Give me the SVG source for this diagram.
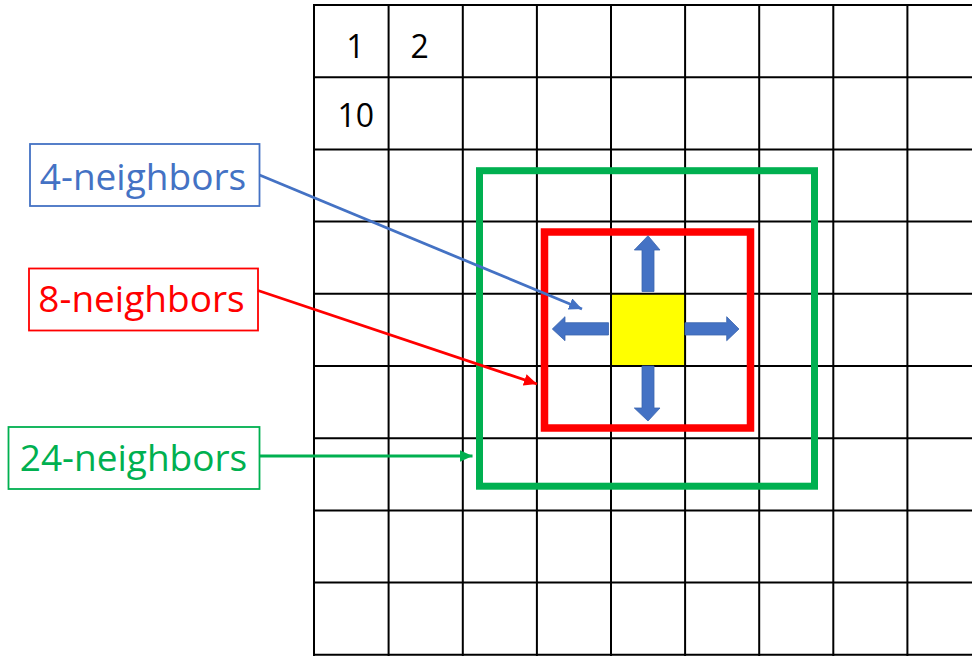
<svg xmlns="http://www.w3.org/2000/svg" width="972" height="656" viewBox="0 0 972 656">
  <style>
    .grid line { stroke: #000; stroke-width: 2; }
    .num { font-family: "Open Sans", "Liberation Sans", sans-serif; font-size: 32px; fill: #000; text-anchor: middle; }
    .lbl { font-family: "Open Sans", "Liberation Sans", sans-serif; font-size: 37px; text-anchor: middle; }
    .box { fill: #fff; stroke-width: 1.8; }
    .conn { fill: none; stroke-width: 2.8; }
    .barrow { fill: #4472C4; stroke: #3A64AE; stroke-width: 0.8; }
  </style>
  <defs>
    <marker id="ahBlue" markerUnits="userSpaceOnUse" markerWidth="14" markerHeight="12" refX="13" refY="6" orient="auto">
      <path d="M0,0 L13,6 L0,12 Z" fill="#4472C4"/>
    </marker>
    <marker id="ahRed" markerUnits="userSpaceOnUse" markerWidth="14" markerHeight="12" refX="13" refY="6" orient="auto">
      <path d="M0,0 L13,6 L0,12 Z" fill="#FF0000"/>
    </marker>
    <marker id="ahGreen" markerUnits="userSpaceOnUse" markerWidth="14" markerHeight="12" refX="13" refY="6" orient="auto">
      <path d="M0,0 L13,6 L0,12 Z" fill="#00B050"/>
    </marker>
  </defs>

  <rect width="972" height="656" fill="#fff"/>

  <!-- centre pixel -->
  <rect id="center-cell" x="611.5" y="294" width="74" height="72" fill="#FFFF00"/>

  <!-- pixel grid -->
  <g id="grid" class="grid">
    <line x1="314" y1="4" x2="314" y2="656"/>
    <line x1="388.6" y1="4" x2="388.6" y2="656"/>
    <line x1="462.8" y1="4" x2="462.8" y2="656"/>
    <line x1="536.9" y1="4" x2="536.9" y2="656"/>
    <line x1="611" y1="4" x2="611" y2="656"/>
    <line x1="685.1" y1="4" x2="685.1" y2="656"/>
    <line x1="759.2" y1="4" x2="759.2" y2="656"/>
    <line x1="833.3" y1="4" x2="833.3" y2="656"/>
    <line x1="907.4" y1="4" x2="907.4" y2="656"/>
    <line x1="313" y1="5" x2="972" y2="5"/>
    <line x1="313" y1="77.2" x2="972" y2="77.2"/>
    <line x1="313" y1="149.4" x2="972" y2="149.4"/>
    <line x1="313" y1="221.6" x2="972" y2="221.6"/>
    <line x1="313" y1="293.8" x2="972" y2="293.8"/>
    <line x1="313" y1="366" x2="972" y2="366"/>
    <line x1="313" y1="438.2" x2="972" y2="438.2"/>
    <line x1="313" y1="510.4" x2="972" y2="510.4"/>
    <line x1="313" y1="582.6" x2="972" y2="582.6"/>
    <line x1="313" y1="654.8" x2="972" y2="654.8"/>
  </g>

  <!-- pixel indices -->
  <g id="indices">
    <text class="num" x="355.5" y="58.3">1</text>
    <text class="num" x="419.7" y="58.3">2</text>
    <text class="num" x="355.7" y="126.7">10</text>
  </g>

  <!-- neighbourhood frames -->
  <rect id="frame-24" x="479.5" y="170.7" width="335" height="315.5" fill="none" stroke="#00B050" stroke-width="7"/>
  <rect id="frame-8" x="544.5" y="232" width="206" height="196" fill="none" stroke="#FF0000" stroke-width="7.5"/>

  <!-- 4-neighbour direction arrows -->
  <g id="dir-arrows">
    <path class="barrow" d="M642,291.5 L642,250 L634.3,250 L648,235.7 L660,250 L654,250 L654,291.5 Z"/>
    <path class="barrow" d="M642,366 L642,408 L634.3,408 L648,421 L660,408 L654,408 L654,366 Z"/>
    <path class="barrow" d="M608.5,322.7 L565,322.7 L565,316.7 L552.3,329 L565,340.7 L565,335 L608.5,335 Z"/>
    <path class="barrow" d="M685,322.7 L726.7,322.7 L726.7,316.7 L739,329 L726.7,340.7 L726.7,335 L685,335 Z"/>
  </g>

  <!-- labels -->
  <g id="label-4">
    <rect class="box" x="30" y="144" width="229.5" height="62" stroke="#4472C4"/>
    <text class="lbl" x="143" y="190" fill="#4472C4">4-neighbors</text>
  </g>
  <g id="label-8">
    <rect class="box" x="29" y="268.5" width="229" height="62" stroke="#FF0000"/>
    <text class="lbl" x="141.5" y="311.5" fill="#FF0000">8-neighbors</text>
  </g>
  <g id="label-24">
    <rect class="box" x="8.5" y="427" width="251" height="62" stroke="#00B050"/>
    <text class="lbl" x="133.5" y="470.5" fill="#00B050">24-neighbors</text>
  </g>

  <!-- leader lines -->
  <g id="connectors">
    <line class="conn" x1="259.5" y1="175" x2="582" y2="309" stroke="#4472C4" marker-end="url(#ahBlue)"/>
    <line class="conn" x1="258" y1="290.5" x2="537" y2="384" stroke="#FF0000" marker-end="url(#ahRed)"/>
    <line class="conn" x1="259.5" y1="456" x2="472.5" y2="456" stroke="#00B050" marker-end="url(#ahGreen)"/>
  </g>
</svg>
